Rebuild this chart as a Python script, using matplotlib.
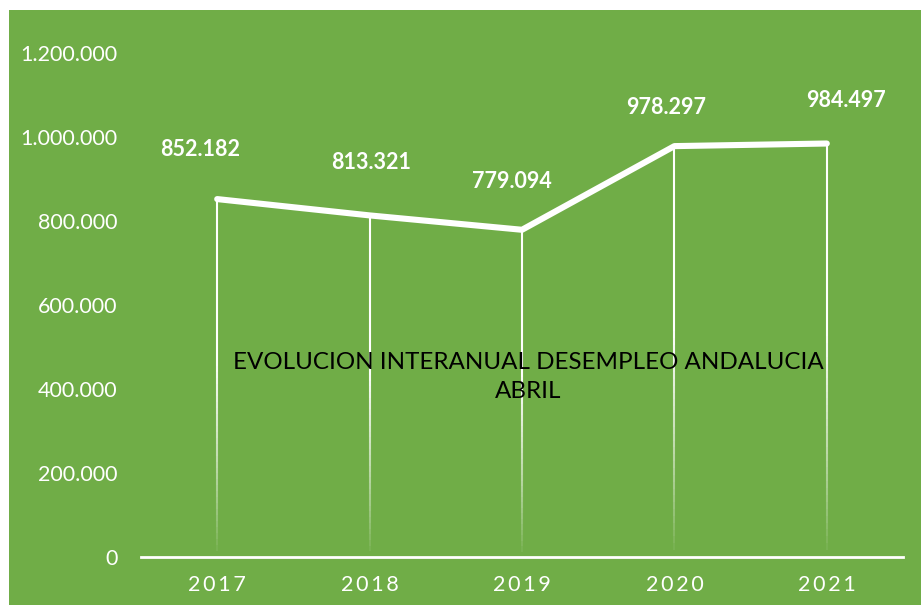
import numpy as np
import matplotlib
matplotlib.use("Agg")
import matplotlib.pyplot as plt
from matplotlib.collections import LineCollection
from matplotlib.patches import Rectangle
from matplotlib.ticker import FuncFormatter

# datos
years = ['2017', '2018', '2019', '2020', '2021']
parados = [852182, 813321, 779094, 978297, 984497]
y_ticks = [0, 200000, 400000, 600000, 800000, 1000000, 1200000]
# desplazamiento manual de las etiquetas (en puntos)
label_offsets = [(-12, 36), (1, 38), (-7, 35), (-6, 28), (14, 31)]

verde = '#70AD47'
plt.rcParams['font.family'] = ['Lato', 'DejaVu Sans']

fig = plt.figure(figsize=(9.21, 6.05), dpi=100)
fig.patch.set_facecolor('white')
fig.patches.append(Rectangle((9 / 921, 0), 1, 595 / 605, transform=fig.transFigure,
                             facecolor=verde, edgecolor='none', zorder=-5))

ax = fig.add_axes([141 / 921, 48 / 605, 762 / 921, 504 / 605])
ax.set_zorder(2)
ax.set_facecolor('none')
x = np.arange(len(years))

# lineas verticales con degradado (blanco arriba, transparente abajo)
n = 60
for xi, v in zip(x, parados):
    ys = np.linspace(0, v, n + 1)
    segs = [[(xi, ys[i]), (xi, ys[i + 1])] for i in range(n)]
    alphas = np.clip(np.linspace(0.0, 1.0, n) * 1.8, 0, 1) ** 0.8
    cols = [(1, 1, 1, a) for a in alphas]
    ax.add_collection(LineCollection(segs, colors=cols, linewidths=1.5, zorder=2))

ax.plot(x, parados, color='white', lw=4.4, solid_capstyle='round',
        solid_joinstyle='round', zorder=3)

fmt = lambda v: f'{int(v):,}'.replace(',', '.')
for xi, v, off in zip(x, parados, label_offsets):
    ax.annotate(fmt(v), (xi, v), xytext=off, textcoords='offset points',
                ha='center', va='center', color='white', fontsize=15.5,
                fontweight='bold', zorder=4)

ax.set_xlim(-0.5, len(years) - 0.5)
ax.set_ylim(0, 1200000)
ax.set_yticks(y_ticks)
ax.yaxis.set_major_formatter(FuncFormatter(lambda v, p: fmt(v)))
ax.set_xticks(x)
ax.set_xticklabels(['\u2009'.join(y) for y in years])
ax.tick_params(axis='y', length=0, colors='white', labelsize=15.5, pad=17)
ax.tick_params(axis='x', length=0, colors='white', labelsize=15.5, pad=13)

for s in ['top', 'right', 'left']:
    ax.spines[s].set_visible(False)
ax.spines['bottom'].set_color('white')
ax.spines['bottom'].set_linewidth(2)

fig.text(528 / 921, 1 - 377 / 605, 'EVOLUCION INTERANUAL DESEMPLEO ANDALUCIA\nABRIL',
         ha='center', va='center', fontsize=17.4, color='black', linespacing=1.5, zorder=5)

fig.savefig('out.png', dpi=100, facecolor=fig.get_facecolor())
